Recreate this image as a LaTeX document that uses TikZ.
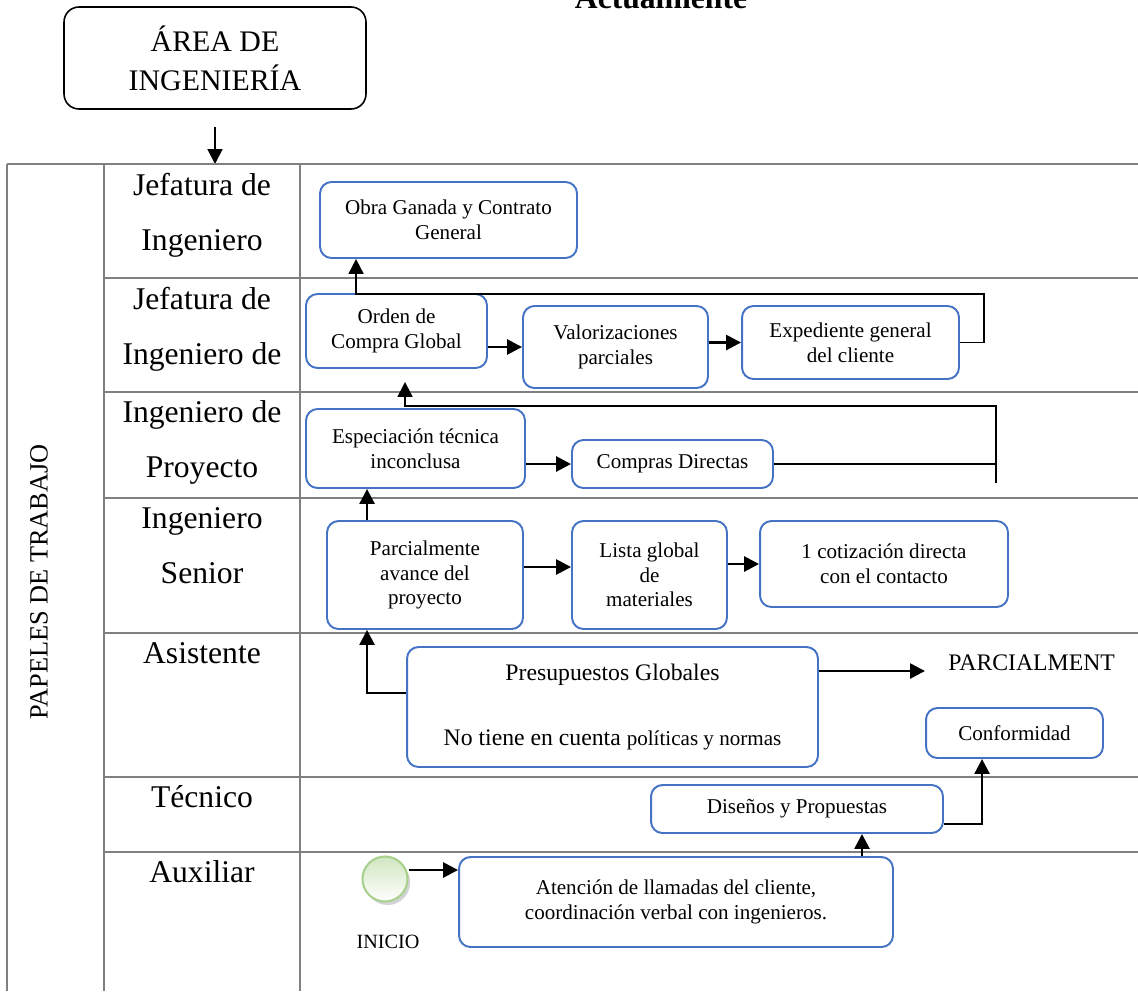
\documentclass[tikz,border=0pt]{standalone}
\usepackage{fontspec}
\setmainfont{Liberation Serif}
\usetikzlibrary{arrows.meta,shadows}
\definecolor{boxblue}{HTML}{4472C4}
\definecolor{startgreen}{HTML}{A9D18E}

\begin{document}
\begin{tikzpicture}[x=0.02cm, y=-0.02cm,
        grid/.style={draw=gray, line width=1pt},
        lane/.style={align=center, inner sep=0pt, font=\fontsize{18}{31}\selectfont},
        task/.style={draw=boxblue, line width=1.1pt, rounded corners=6.5pt, fill=white,
            align=center, inner sep=0pt, font=\fontsize{12}{14}\selectfont},
        arr/.style={line width=1.5pt, -{Triangle[length=8.5pt,width=8.5pt]}},
        link/.style={line width=1pt}]
    \useasboundingbox (0,0) rectangle (1138,991);

    \node[font=\bfseries\fontsize{18}{22}\selectfont, anchor=base] (titulo) at (661,8) {Actualmente};
    \node[draw, line width=0.9pt, rounded corners=8.5pt, align=center, minimum width=6.04cm, minimum height=2.04cm,
        font=\fontsize{17}{22}\selectfont] (area) at (215,58) {ÁREA DE\\INGENIERÍA};
    \coordinate (lanetop) at (215,164);
    \draw[arr, line width=1.1pt] ([yshift=-0.34cm]area.south) -- (lanetop);

    \draw[grid] (7,164) -- (1138,164);
    \draw[grid] (7,164) -- (7,991);
    \draw[grid] (104,164) -- (104,991);
    \draw[grid] (300,164) -- (300,991);
    \foreach \y in {278,392,498,633,777,852}
        \draw[grid] (104,\y) -- (1138,\y);

    \node[rotate=90, font=\fontsize{15}{18}\selectfont] (papeles) at (39,582) {PAPELES DE TRABAJO};
    \foreach \base/\txt in {250/{Jefatura de\\Ingeniero}, 364/{Jefatura de\\Ingeniero de}, 477/{Ingeniero de\\Proyecto},
            583/{Ingeniero\\Senior}, 663/Asistente, 807/Técnico, 882/Auxiliar}
        \node[lane, anchor=base] (lane\base) at (202,\base) {\txt};

    \node[task, minimum width=5.14cm, minimum height=1.52cm] (obra) at (448.5,220) {Obra Ganada y Contrato\\General};
    \node[task, minimum width=3.62cm, minimum height=1.48cm] (orden) at (396.5,331) {Orden de\\Compra Global};
    \node[task, minimum width=3.70cm, minimum height=1.64cm] (valor) at (615.5,347) {Valorizaciones\\parciales};
    \node[task, minimum width=4.34cm, minimum height=1.46cm] (exped) at (850.5,342.5) {Expediente general\\del cliente};
    \node[task, minimum width=4.38cm, minimum height=1.58cm] (espec) at (415.5,448.5) {Especiación técnica\\inconclusa};
    \node[task, minimum width=4.02cm, minimum height=0.96cm] (compras) at (672.5,464) {Compras Directas};
    \node[task, minimum width=3.92cm, minimum height=2.16cm] (parcial) at (425,575) {Parcialmente\\avance del\\proyecto};
    \node[task, minimum width=3.10cm, minimum height=2.16cm] (lista) at (649.5,575) {Lista global\\de\\materiales};
    \node[task, minimum width=4.96cm, minimum height=1.72cm] (cotiz) at (884,564) {1 cotización directa\\con el contacto};
    \node[task, minimum width=8.22cm, minimum height=2.40cm, font=\fontsize{13.5}{16}\selectfont] (presup) at (612.5,707)
        {Presupuestos Globales\\[21pt]No tiene en cuenta {\fontsize{12}{14}\selectfont políticas y normas}};
    \node[anchor=west, inner sep=0pt, font=\fontsize{13.5}{16}\selectfont] (parcl) at (948,663) {PARCIALMENT};
    \node[task, minimum width=3.54cm, minimum height=1.00cm] (conform) at (1014.5,733) {Conformidad};
    \node[task, minimum width=5.84cm, minimum height=0.96cm] (disenos) at (797,809) {Diseños y Propuestas};
    \node[task, minimum width=8.68cm, minimum height=1.80cm] (atencion) at (676,902)
        {Atención de llamadas del cliente,\\coordinación verbal con ingenieros.};
    \node[circle, minimum size=0.9cm, draw=startgreen, line width=1.2pt, top color=startgreen!55!white,
        bottom color=white, drop shadow={opacity=0.35, shadow xshift=1.5pt, shadow yshift=-2pt}] (inicio) at (385,879) {};
    \node[font=\fontsize{11.5}{13}\selectfont] (iniciotxt) at (388,942) {INICIO};

    \coordinate (r1) at (984,294);
    \coordinate (r2) at (996,406);
    \coordinate (r3) at (996,483);
    \draw[arr, line width=1pt] (exped.east) -| (r1) -| ([xshift=0.74cm]obra.south west);
    \draw[arr] (orden.east |- valor.west) -- (valor.west);
    \draw[arr] (valor.east |- exped.west) -- (exped.west);
    \draw[link] (compras.east) -- (compras.east -| r3);
    \draw[arr, line width=1pt, shorten >=0.26cm] (r3) -- (r2) -| ([xshift=2cm]orden.south west);
    \draw[arr] (espec.east |- compras.west) -- (compras.west);
    \draw[arr] ([xshift=0.82cm]parcial.north west) coordinate (p1) -- (p1 |- espec.south);
    \draw[arr] ([yshift=0.16cm]parcial.east) -- ([yshift=0.16cm]lista.west);
    \draw[arr] (lista.east |- cotiz.west) -- (cotiz.west);
    \draw[arr] ([yshift=0.28cm]presup.west) -| ([xshift=0.82cm]parcial.south west);
    \draw[arr, shorten >=0.46cm] ([yshift=0.72cm]presup.east) coordinate (p2) -- (p2 -| parcl.west);
    \draw[arr] ([xshift=8.08cm]atencion.north west) coordinate (a1) -- (a1 |- disenos.south);
    \draw[arr] ([yshift=-0.3cm]disenos.east) -| ([xshift=1.14cm]conform.south west);
    \draw[arr] ([yshift=0.18cm]inicio.east) coordinate (s1) -- (s1 -| atencion.west);
\end{tikzpicture}
\end{document}
